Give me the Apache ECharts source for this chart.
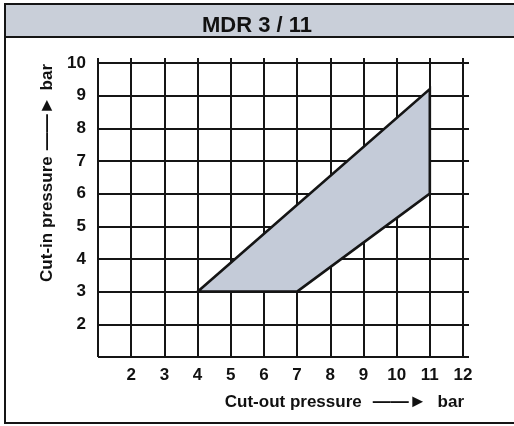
<!DOCTYPE html>
<html>
<head>
<meta charset="utf-8">
<script src="https://cdn.jsdelivr.net/npm/echarts@6/dist/echarts.min.js"></script>
<style>
  html, body { margin: 0; padding: 0; background: #fff; }
  #chart { width: 514px; height: 426px; }
</style>
</head>
<body>
<div id="chart"></div>
<script>
// switching range of the pressure switch
let cutOut = [4, 7, 11, 11];   // bar
let cutIn = [3, 3, 6, 9.2];    // bar
let xTicks = [1, 12];          // min / max of cut-out axis
let yTicks = [1, 10];          // min / max of cut-in axis

let chart = echarts.init(document.getElementById('chart'), null, { renderer: 'canvas' });
let ink = '#151515';
let font = 'Liberation Sans';

function drawZone(params, api) {
    if (params.dataIndex !== 0) return; // one polygon from all points
    let pts = cutOut.map((x, i) => api.coord([x, cutIn[i]]));
    return {
        type: 'polygon',
        shape: { points: pts },
        style: { fill: '#c4cbd8', stroke: ink, lineWidth: 2.6, lineJoin: 'miter' }
    };
}

let gridLine = { show: true, lineStyle: { color: ink, width: 2 } };

// axis title with a heavier arrow in the middle
function nameRich(pad) {
    return {
        t: { fontFamily: font, fontSize: 17, fontWeight: 'bold', color: '#111' },
        a: { fontFamily: font, fontSize: 18, fontWeight: 'bold', color: '#111', padding: [0, pad, 0, pad] }
    };
}

chart.setOption({
    backgroundColor: '#fff',
    animation: false,
    title: {
        text: 'MDR 3 / 11',
        left: 'center',
        top: 10,
        textStyle: { fontFamily: font, fontSize: 22, fontWeight: 'bold', color: '#111' }
    },
    graphic: [
        { type: 'rect', shape: { x: 5, y: 4, width: 520, height: 33 }, style: { fill: '#c9cfd9', stroke: ink, lineWidth: 2 }, z: -1 },
        { type: 'rect', shape: { x: 5, y: 37, width: 520, height: 386 }, style: { fill: 'none', stroke: ink, lineWidth: 2 }, z: -1 }
    ],
    grid: { left: 98, right: 51, top: 63, bottom: 69 },
    xAxis: [
        {
            type: 'value', min: xTicks[0], max: xTicks[1], interval: 1,
            name: '{t|Cut-out pressure}{a|——►}{t|bar}',
            nameLocation: 'end', nameGap: 1,
            nameTextStyle: { align: 'right', verticalAlign: 'top', padding: [36, 0, 0, 0], rich: nameRich(11) },
            axisLine: { show: false },
            axisTick: { show: false },
            splitLine: gridLine,
            axisLabel: { showMinLabel: false, margin: 10, fontFamily: font, fontSize: 17, fontWeight: 'bold', color: '#111' }
        },
        {
            type: 'value', position: 'top', min: xTicks[0], max: xTicks[1], interval: 1,
            axisLine: { show: false },
            axisTick: { show: true, length: 5, lineStyle: { color: ink, width: 2 } },
            axisLabel: { show: false },
            splitLine: { show: false }
        }
    ],
    yAxis: [
        {
            type: 'value', min: yTicks[0], max: yTicks[1], interval: 1,
            name: '{t|Cut-in pressure}{a|——►}{t|bar}',
            nameLocation: 'end', nameGap: -1, nameRotate: 90,
            nameTextStyle: { align: 'right', verticalAlign: 'bottom', padding: [0, 0, 42, 0], rich: nameRich(6) },
            axisLine: { show: false },
            axisTick: { show: false },
            splitLine: gridLine,
            axisLabel: { showMinLabel: false, margin: 12, fontFamily: font, fontSize: 17, fontWeight: 'bold', color: '#111' }
        },
        {
            type: 'value', position: 'right', min: yTicks[0], max: yTicks[1], interval: 1,
            axisLine: { show: false },
            axisTick: { show: true, length: 6, lineStyle: { color: ink, width: 2 } },
            axisLabel: { show: false },
            splitLine: { show: false }
        }
    ],
    series: [
        {
            type: 'custom',
            renderItem: drawZone,
            data: cutOut.map((x, i) => [x, cutIn[i]]),
            z: 3
        }
    ]
});
</script>
</body>
</html>
